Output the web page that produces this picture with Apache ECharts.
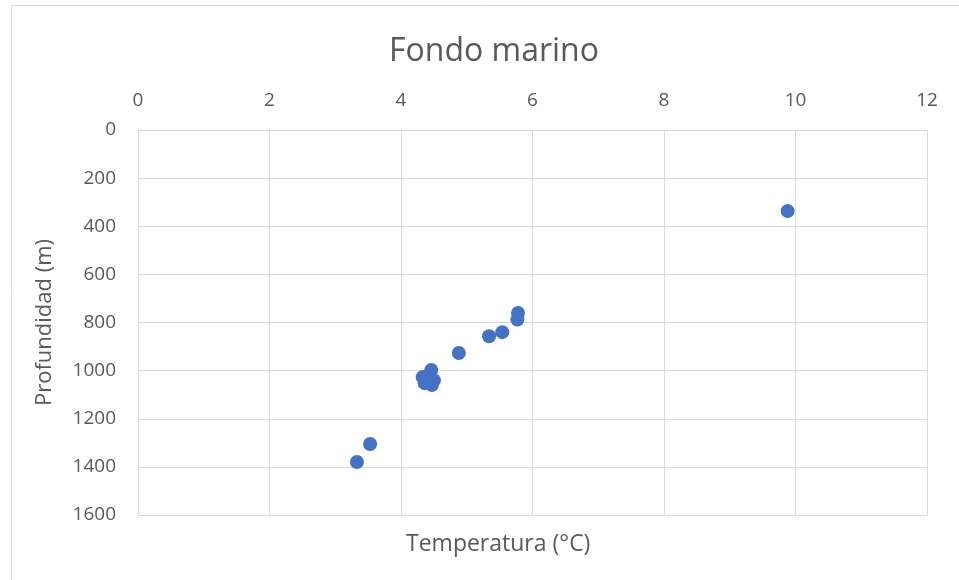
<!DOCTYPE html>
<html>
<head>
<meta charset="utf-8">
<script src="https://cdn.jsdelivr.net/npm/echarts@6/dist/echarts.min.js"></script>
<style>
  html, body { margin: 0; padding: 0; background: #fff; }
  #chart { width: 959px; height: 580px; }
</style>
</head>
<body>
<div id="chart"></div>
<script>
// temperatura (°C) y profundidad (m)
var temperatura = [9.88, 5.78, 5.77, 5.54, 5.34, 4.88, 4.46, 4.33, 4.50, 4.36, 4.47, 3.53, 3.33];
var profundidad = [337, 760, 788, 840, 857, 927, 997, 1027, 1040, 1052, 1060, 1305, 1380];

var puntos = [];
for (var i = 0; i < temperatura.length; i++) {
    puntos.push([temperatura[i], profundidad[i]]);
}

var gris = '#595959';
var fuente = 'Open Sans';
var myChart = echarts.init(document.getElementById('chart'));
myChart.setOption({
    animation: false,
    textStyle: { fontFamily: fuente },
    title: {
        text: 'Fondo marino',
        left: 384,
        top: 31,
        textStyle: { fontSize: 32, fontWeight: 'normal', color: gris, fontFamily: fuente }
    },
    graphic: [{
        type: 'rect',
        shape: { x: 11.5, y: 5.5, width: 960, height: 590 },
        style: { fill: 'none', stroke: '#d9d9d9', lineWidth: 1 }
    }, {
        // nombre del eje x debajo del area de trazado
        type: 'text',
        left: 406,
        top: 533,
        style: { text: 'Temperatura (°C)', fontSize: 23, fill: gris, fontFamily: fuente }
    }],
    grid: { left: 138, right: 32, top: 130, bottom: 65 },
    xAxis: {
        type: 'value',
        position: 'top',
        min: 0, max: 12, interval: 2,
        axisLine: { show: false },
        axisTick: { show: false },
        axisLabel: { fontSize: 19, color: gris, margin: 20 },
        splitLine: { lineStyle: { color: '#d9d9d9', width: 1 } }
    },
    yAxis: {
        type: 'value',
        inverse: true,
        min: 0, max: 1600, interval: 200,
        name: 'Profundidad (m)',
        nameLocation: 'middle',
        nameGap: 82,
        nameTextStyle: { fontSize: 22, color: gris },
        axisLine: { show: false },
        axisTick: { show: false },
        axisLabel: { fontSize: 19, color: gris, margin: 22, formatter: function (v) { return String(v); } },
        splitLine: { lineStyle: { color: '#d9d9d9', width: 1 } }
    },
    series: [{
        type: 'scatter',
        data: puntos,
        symbolSize: 14,
        itemStyle: { color: '#4472C4', opacity: 1 }
    }]
});
</script>
</body>
</html>
